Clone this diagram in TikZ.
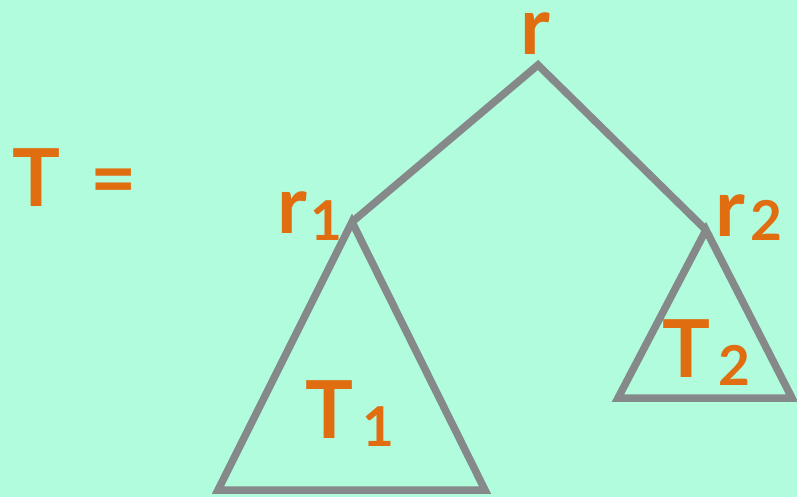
\documentclass[tikz,border=0pt]{standalone}
\usepackage{fontspec}
\setmainfont{Lato}
\definecolor{mint}{HTML}{B0FCDC}
\definecolor{labelorange}{HTML}{E06D10}
\definecolor{edgegray}{HTML}{85898A}
\begin{document}
\begin{tikzpicture}[
x=1pt, y=-1pt,
edge/.style={draw=edgegray, line width=7.5pt, line join=miter},
big/.style={text=labelorange, inner sep=0pt, anchor=base west, font=\fontsize{80}{80}\selectfont\bfseries},
small/.style={text=labelorange, inner sep=0pt, anchor=base west, font=\fontsize{55}{55}\selectfont\bfseries}
]
\fill[mint] (0,0) rectangle (797,497);
\useasboundingbox (0,0) rectangle (797,497);
% tree points
\coordinate (r) at (538,65);
\coordinate (r1) at (352,222);
\coordinate (r2) at (706,230);
\coordinate (t1l) at (218,490);
\coordinate (t1r) at (485,490);
\coordinate (t2l) at (618,398);
\coordinate (t2r) at (792,398);
% edges and subtrees
\draw[edge] (r1) -- (r) -- (r2);
\draw[edge] (r1) -- (t1l) -- (t1r) -- cycle;
\draw[edge] (r2) -- (t2l) -- (t2r) -- cycle;
% labels
\node[big] (tname) at (12,206) {T\kern 30pt=};
\node[big] (rname) at (520,55) {r};
\node[big] (r1name) at (277,233) {r};
\node[small] (r1sub) at (310,240) {1};
\node[big] (r2name) at (715,236) {r};
\node[small] (r2sub) at (750,240) {2};
\node[big] (t1name) at (305,438) {T};
\node[small] (t1sub) at (362,446) {1};
\node[big] (t2name) at (662,377) {T};
\node[small] (t2sub) at (718,385) {2};
\end{tikzpicture}
\end{document}
